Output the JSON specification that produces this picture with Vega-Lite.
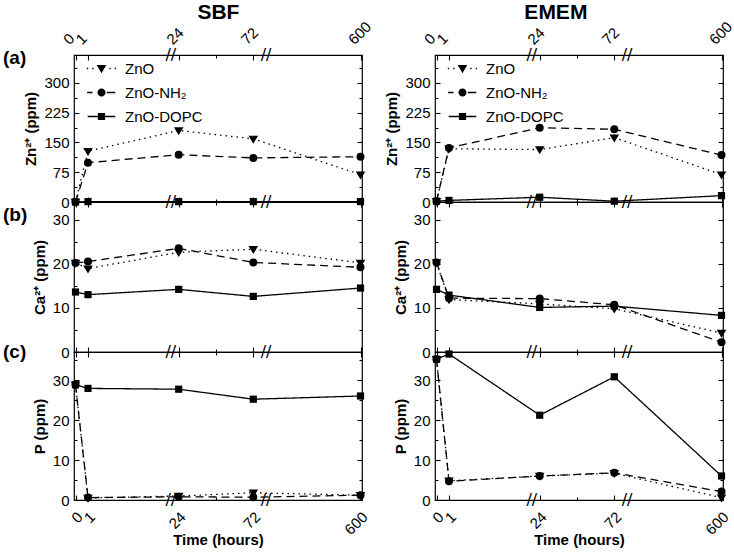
{
 "$schema": "https://vega.github.io/schema/vega-lite/v6.json",
 "padding": {"left": 2, "top": 2, "right": 0, "bottom": 2},
 "datasets": {
  "d": [
   {"m":"SBF","ion":"Zn","s":"ZnO","t":0,"v":0},{"m":"SBF","ion":"Zn","s":"ZnO","t":1,"v":128},{"m":"SBF","ion":"Zn","s":"ZnO","t":24,"v":180},{"m":"SBF","ion":"Zn","s":"ZnO","t":72,"v":159},{"m":"SBF","ion":"Zn","s":"ZnO","t":600,"v":69},
   {"m":"SBF","ion":"Zn","s":"ZnO-NH₂","t":0,"v":0},{"m":"SBF","ion":"Zn","s":"ZnO-NH₂","t":1,"v":99},{"m":"SBF","ion":"Zn","s":"ZnO-NH₂","t":24,"v":119},{"m":"SBF","ion":"Zn","s":"ZnO-NH₂","t":72,"v":111},{"m":"SBF","ion":"Zn","s":"ZnO-NH₂","t":600,"v":114},
   {"m":"SBF","ion":"Zn","s":"ZnO-DOPC","t":0,"v":0},{"m":"SBF","ion":"Zn","s":"ZnO-DOPC","t":1,"v":1},{"m":"SBF","ion":"Zn","s":"ZnO-DOPC","t":24,"v":1},{"m":"SBF","ion":"Zn","s":"ZnO-DOPC","t":72,"v":1},{"m":"SBF","ion":"Zn","s":"ZnO-DOPC","t":600,"v":1},
   {"m":"EMEM","ion":"Zn","s":"ZnO","t":0,"v":2},{"m":"EMEM","ion":"Zn","s":"ZnO","t":1,"v":134},{"m":"EMEM","ion":"Zn","s":"ZnO","t":24,"v":132},{"m":"EMEM","ion":"Zn","s":"ZnO","t":72,"v":162},{"m":"EMEM","ion":"Zn","s":"ZnO","t":600,"v":69},
   {"m":"EMEM","ion":"Zn","s":"ZnO-NH₂","t":0,"v":2},{"m":"EMEM","ion":"Zn","s":"ZnO-NH₂","t":1,"v":136},{"m":"EMEM","ion":"Zn","s":"ZnO-NH₂","t":24,"v":187},{"m":"EMEM","ion":"Zn","s":"ZnO-NH₂","t":72,"v":183},{"m":"EMEM","ion":"Zn","s":"ZnO-NH₂","t":600,"v":118},
   {"m":"EMEM","ion":"Zn","s":"ZnO-DOPC","t":0,"v":2},{"m":"EMEM","ion":"Zn","s":"ZnO-DOPC","t":1,"v":4},{"m":"EMEM","ion":"Zn","s":"ZnO-DOPC","t":24,"v":12},{"m":"EMEM","ion":"Zn","s":"ZnO-DOPC","t":72,"v":2},{"m":"EMEM","ion":"Zn","s":"ZnO-DOPC","t":600,"v":16},
   {"m":"SBF","ion":"Ca","s":"ZnO","t":0,"v":20.2},{"m":"SBF","ion":"Ca","s":"ZnO","t":1,"v":18.9},{"m":"SBF","ion":"Ca","s":"ZnO","t":24,"v":22.6},{"m":"SBF","ion":"Ca","s":"ZnO","t":72,"v":23.3},{"m":"SBF","ion":"Ca","s":"ZnO","t":600,"v":20.2},
   {"m":"SBF","ion":"Ca","s":"ZnO-NH₂","t":0,"v":20.2},{"m":"SBF","ion":"Ca","s":"ZnO-NH₂","t":1,"v":20.5},{"m":"SBF","ion":"Ca","s":"ZnO-NH₂","t":24,"v":23.5},{"m":"SBF","ion":"Ca","s":"ZnO-NH₂","t":72,"v":20.3},{"m":"SBF","ion":"Ca","s":"ZnO-NH₂","t":600,"v":19.2},
   {"m":"SBF","ion":"Ca","s":"ZnO-DOPC","t":0,"v":13.6},{"m":"SBF","ion":"Ca","s":"ZnO-DOPC","t":1,"v":13.0},{"m":"SBF","ion":"Ca","s":"ZnO-DOPC","t":24,"v":14.2},{"m":"SBF","ion":"Ca","s":"ZnO-DOPC","t":72,"v":12.6},{"m":"SBF","ion":"Ca","s":"ZnO-DOPC","t":600,"v":14.5},
   {"m":"EMEM","ion":"Ca","s":"ZnO","t":0,"v":20.3},{"m":"EMEM","ion":"Ca","s":"ZnO","t":1,"v":11.9},{"m":"EMEM","ion":"Ca","s":"ZnO","t":24,"v":10.9},{"m":"EMEM","ion":"Ca","s":"ZnO","t":72,"v":9.8},{"m":"EMEM","ion":"Ca","s":"ZnO","t":600,"v":4.3},
   {"m":"EMEM","ion":"Ca","s":"ZnO-NH₂","t":0,"v":20.3},{"m":"EMEM","ion":"Ca","s":"ZnO-NH₂","t":1,"v":12.2},{"m":"EMEM","ion":"Ca","s":"ZnO-NH₂","t":24,"v":12.1},{"m":"EMEM","ion":"Ca","s":"ZnO-NH₂","t":72,"v":10.7},{"m":"EMEM","ion":"Ca","s":"ZnO-NH₂","t":600,"v":2.2},
   {"m":"EMEM","ion":"Ca","s":"ZnO-DOPC","t":0,"v":14.2},{"m":"EMEM","ion":"Ca","s":"ZnO-DOPC","t":1,"v":12.9},{"m":"EMEM","ion":"Ca","s":"ZnO-DOPC","t":24,"v":10.1},{"m":"EMEM","ion":"Ca","s":"ZnO-DOPC","t":72,"v":10.4},{"m":"EMEM","ion":"Ca","s":"ZnO-DOPC","t":600,"v":8.3},
   {"m":"SBF","ion":"P","s":"ZnO","t":0,"v":28.8},{"m":"SBF","ion":"P","s":"ZnO","t":1,"v":0.5},{"m":"SBF","ion":"P","s":"ZnO","t":24,"v":1.0},{"m":"SBF","ion":"P","s":"ZnO","t":72,"v":1.8},{"m":"SBF","ion":"P","s":"ZnO","t":600,"v":1.2},
   {"m":"SBF","ion":"P","s":"ZnO-NH₂","t":0,"v":28.8},{"m":"SBF","ion":"P","s":"ZnO-NH₂","t":1,"v":0.6},{"m":"SBF","ion":"P","s":"ZnO-NH₂","t":24,"v":0.8},{"m":"SBF","ion":"P","s":"ZnO-NH₂","t":72,"v":0.7},{"m":"SBF","ion":"P","s":"ZnO-NH₂","t":600,"v":1.2},
   {"m":"SBF","ion":"P","s":"ZnO-DOPC","t":0,"v":28.8},{"m":"SBF","ion":"P","s":"ZnO-DOPC","t":1,"v":27.9},{"m":"SBF","ion":"P","s":"ZnO-DOPC","t":24,"v":27.7},{"m":"SBF","ion":"P","s":"ZnO-DOPC","t":72,"v":25.2},{"m":"SBF","ion":"P","s":"ZnO-DOPC","t":600,"v":26.0},
   {"m":"EMEM","ion":"P","s":"ZnO","t":0,"v":35.2},{"m":"EMEM","ion":"P","s":"ZnO","t":1,"v":4.8},{"m":"EMEM","ion":"P","s":"ZnO","t":24,"v":6.0},{"m":"EMEM","ion":"P","s":"ZnO","t":72,"v":6.7},{"m":"EMEM","ion":"P","s":"ZnO","t":600,"v":0.6},
   {"m":"EMEM","ion":"P","s":"ZnO-NH₂","t":0,"v":35.2},{"m":"EMEM","ion":"P","s":"ZnO-NH₂","t":1,"v":4.7},{"m":"EMEM","ion":"P","s":"ZnO-NH₂","t":24,"v":6.0},{"m":"EMEM","ion":"P","s":"ZnO-NH₂","t":72,"v":6.8},{"m":"EMEM","ion":"P","s":"ZnO-NH₂","t":600,"v":2.1},
   {"m":"EMEM","ion":"P","s":"ZnO-DOPC","t":0,"v":35.2},{"m":"EMEM","ion":"P","s":"ZnO-DOPC","t":1,"v":36.5},{"m":"EMEM","ion":"P","s":"ZnO-DOPC","t":24,"v":21.2},{"m":"EMEM","ion":"P","s":"ZnO-DOPC","t":72,"v":30.8},{"m":"EMEM","ion":"P","s":"ZnO-DOPC","t":600,"v":6.0}
  ],
  "brk": [{"t": 22}, {"t": 135}]
 },
 "data": {"name": "d"},
 "spacing": 8,
 "resolve": {"scale": {"shape": "independent", "strokeDash": "independent", "x": "independent", "y": "independent"}, "legend": {"shape": "independent", "strokeDash": "independent"}},
 "hconcat": [
  {
   "title": {"text": "SBF", "fontSize": 21, "offset": -5, "anchor": "start", "frame": "bounds", "dx": 195},
   "spacing": 0, "bounds": "flush",
   "resolve": {"scale": {"shape": "independent", "strokeDash": "independent", "x": "independent", "y": "independent"}, "legend": {"shape": "independent", "strokeDash": "independent"}},
   "vconcat": [
    {
     "width": 288, "height": 147,
     "title": {"text": "(a)", "orient": "top", "anchor": "start", "frame": "group", "fontSize": 19, "offset": 0, "baseline": "middle", "dx": -71, "dy": 58.5},
     "resolve": {"scale": {"shape": "independent"}, "legend": {"shape": "independent"}},
     "layer": [
      {"transform": [{"filter": "datum.m === 'SBF' && datum.ion === 'Zn'"}],
       "mark": {"type": "line", "color": "black", "strokeWidth": 1.3},
       "encoding": {
        "x": {"field": "t", "type": "quantitative", "scale": {"domain": [0,1,24,72,600], "range": [1.5,14,104.7,179.3,286.5], "nice": false, "zero": false},
              "axis": {"orient": "top", "values": [0,1,24,48,72,600], "labelExpr": "datum.value === 48 ? '' : datum.label", "labelAngle": -45, "labelAlign": "left", "labelBaseline": "middle", "labelPadding": 18.5, "labelOffset": -10, "tickSize": {"condition": {"test": "datum.value === 48", "value": -3}, "value": -5}, "title": null}},
        "y": {"field": "v", "type": "quantitative", "scale": {"domain": [0,370], "nice": false},
              "axis": {"orient": "left", "values": [0,37.5,75,112.5,150,187.5,225,262.5,300,337.5], "labelExpr": "datum.value % 75 === 0 ? datum.label : ''", "labelPadding": 10, "tickSize": {"condition": {"test": "datum.value % 75 !== 0", "value": -3}, "value": -5}, "title": "Zn²⁺ (ppm)", "titlePadding": 5}},
        "strokeDash": {"field": "s", "type": "nominal", "scale": {"range": [[1.5,4],[1,0],[8,5]]}, "legend": null}
       }},
      {"transform": [{"filter": "datum.m === 'SBF' && datum.ion === 'Zn'"}],
       "mark": {"type": "point", "filled": true, "color": "black", "opacity": 1, "size": 64},
       "encoding": {
        "x": {"field": "t", "type": "quantitative", "scale": {"domain": [0,1,24,72,600], "range": [1.5,14,104.7,179.3,286.5], "nice": false, "zero": false},
              "axis": {"orient": "bottom", "values": [0,1,24,48,72,600], "labels": false, "tickSize": {"condition": {"test": "datum.value === 48", "value": -3}, "value": -5}, "title": null}},
        "y": {"field": "v", "type": "quantitative", "scale": {"domain": [0,370], "nice": false},
              "axis": {"orient": "right", "values": [0,37.5,75,112.5,150,187.5,225,262.5,300,337.5], "labels": false, "tickSize": {"condition": {"test": "datum.value % 75 !== 0", "value": -3}, "value": -5}, "title": null}},
        "shape": {"field": "s", "type": "nominal", "scale": {"domain": ["ZnO","ZnO-NH₂","ZnO-DOPC"], "range": ["M-1.2,-0.8L1.2,-0.8L0,1.2Z", "circle", "M-0.9,-0.9H0.9V0.9H-0.9Z"]}, "legend": null}
       }},
      {"transform": [{"filter": "datum.m === 'SBF' && datum.ion === 'Zn'"}],
       "mark": {"type": "point", "filled": true, "color": "black", "opacity": 0, "size": 36},
       "encoding": {
        "x": {"field": "t", "type": "quantitative", "scale": {"domain": [0,1,24,72,600], "range": [1.5,14,104.7,179.3,286.5], "nice": false, "zero": false}, "axis": null},
        "y": {"field": "v", "type": "quantitative", "scale": {"domain": [0,370], "nice": false}, "axis": null},
        "shape": {"field": "s", "type": "nominal", "scale": {"domain": ["ZnO","ZnO-NH₂","ZnO-DOPC"], "range": ["M-4.9,-0.22h0.45v0.44h-0.45ZM-3.1,-0.22h0.45v0.44h-0.45ZM2.6,-0.22h0.45v0.44h-0.45ZM4.4,-0.22h0.45v0.44h-0.45ZM-1.6,-1.2L1.6,-1.2L0,1.6Z", "M-4.8,-0.22H-3V0.22H-4.8ZM1.8,-0.22H4.6V0.22H1.8ZM-1.35,0a1.35,1.35 0 1,0 2.7,0a1.35,1.35 0 1,0 -2.7,0Z", "M-4.6,-0.22H4.6V0.22H-4.6ZM-1.2,-1.2H1.2V1.2H-1.2Z"]},
                  "legend": {"title": null, "orient": "top-left", "offset": 6, "padding": 0, "rowPadding": 8, "labelFontSize": 15, "labelFont": "Liberation Sans", "labelColor": "black", "symbolOffset": 14, "labelOffset": 16, "symbolSize": 36, "symbolOpacity": 1, "symbolFillColor": "black", "symbolStrokeWidth": 0}}
       }},
      {"data": {"name": "brk"}, "mark": {"type": "text", "text": "//", "font": "DejaVu Sans", "fontSize": 16, "color": "black"},
       "encoding": {"x": {"field": "t", "type": "quantitative", "scale": {"domain": [0,1,24,72,600], "range": [1.5,14,104.7,179.3,286.5], "nice": false, "zero": false}, "axis": null},
                    "y": {"datum": 0, "type": "quantitative", "scale": {"domain": [0,370], "nice": false}, "axis": null}}},
      {"data": {"name": "brk"}, "mark": {"type": "text", "text": "//", "font": "DejaVu Sans", "fontSize": 16, "color": "black"},
       "encoding": {"x": {"field": "t", "type": "quantitative", "scale": {"domain": [0,1,24,72,600], "range": [1.5,14,104.7,179.3,286.5], "nice": false, "zero": false}, "axis": null},
                    "y": {"datum": 370, "type": "quantitative", "scale": {"domain": [0,370], "nice": false}, "axis": null}}}
     ]
    },
    {
     "width": 288, "height": 150,
     "title": {"text": "(b)", "orient": "top", "anchor": "start", "frame": "group", "fontSize": 19, "offset": 0, "baseline": "middle", "dx": -71, "dy": 33},
     "layer": [
      {"transform": [{"filter": "datum.m === 'SBF' && datum.ion === 'Ca'"}],
       "mark": {"type": "line", "color": "black", "strokeWidth": 1.3},
       "encoding": {
        "x": {"field": "t", "type": "quantitative", "scale": {"domain": [0,1,24,72,600], "range": [1.5,14,104.7,179.3,286.5], "nice": false, "zero": false},
              "axis": {"orient": "top", "values": [0,1,24,48,72,600], "labels": false, "tickSize": {"condition": {"test": "datum.value === 48", "value": -3}, "value": -5}, "title": null}},
        "y": {"field": "v", "type": "quantitative", "scale": {"domain": [0,34], "nice": false},
              "axis": {"orient": "left", "values": [0,5,10,15,20,25,30], "labelExpr": "datum.value % 10 === 0 ? datum.label : ''", "labelPadding": 10, "tickSize": {"condition": {"test": "datum.value % 10 !== 0", "value": -3}, "value": -5}, "title": "Ca²⁺ (ppm)", "titlePadding": 5}},
        "strokeDash": {"field": "s", "type": "nominal", "scale": {"range": [[1.5,4],[1,0],[8,5]]}, "legend": null}
       }},
      {"transform": [{"filter": "datum.m === 'SBF' && datum.ion === 'Ca'"}],
       "mark": {"type": "point", "filled": true, "color": "black", "opacity": 1, "size": 64},
       "encoding": {
        "x": {"field": "t", "type": "quantitative", "scale": {"domain": [0,1,24,72,600], "range": [1.5,14,104.7,179.3,286.5], "nice": false, "zero": false},
              "axis": {"orient": "bottom", "values": [0,1,24,48,72,600], "labels": false, "tickSize": {"condition": {"test": "datum.value === 48", "value": -3}, "value": -5}, "title": null}},
        "y": {"field": "v", "type": "quantitative", "scale": {"domain": [0,34], "nice": false},
              "axis": {"orient": "right", "values": [0,5,10,15,20,25,30], "labels": false, "tickSize": {"condition": {"test": "datum.value % 10 !== 0", "value": -3}, "value": -5}, "title": null}},
        "shape": {"field": "s", "type": "nominal", "scale": {"domain": ["ZnO","ZnO-NH₂","ZnO-DOPC"], "range": ["M-1.2,-0.8L1.2,-0.8L0,1.2Z", "circle", "M-0.9,-0.9H0.9V0.9H-0.9Z"]}, "legend": null}
       }},
      {"data": {"name": "brk"}, "mark": {"type": "text", "text": "//", "font": "DejaVu Sans", "fontSize": 16, "color": "black"},
       "encoding": {"x": {"field": "t", "type": "quantitative", "scale": {"domain": [0,1,24,72,600], "range": [1.5,14,104.7,179.3,286.5], "nice": false, "zero": false}, "axis": null},
                    "y": {"datum": 0, "type": "quantitative", "scale": {"domain": [0,34], "nice": false}, "axis": null}}}
     ]
    },
    {
     "width": 288, "height": 148,
     "title": {"text": "(c)", "orient": "top", "anchor": "start", "frame": "group", "fontSize": 19, "offset": 0, "baseline": "middle", "dx": -71, "dy": 19.5},
     "layer": [
      {"transform": [{"filter": "datum.m === 'SBF' && datum.ion === 'P'"}],
       "mark": {"type": "line", "color": "black", "strokeWidth": 1.3},
       "encoding": {
        "x": {"field": "t", "type": "quantitative", "scale": {"domain": [0,1,24,72,600], "range": [1.5,14,104.7,179.3,286.5], "nice": false, "zero": false},
              "axis": {"orient": "bottom", "values": [0,1,24,48,72,600], "labelExpr": "datum.value === 48 ? '' : datum.label", "labelAngle": -45, "labelAlign": "right", "labelBaseline": "middle", "labelPadding": 19, "labelOffset": 4, "tickSize": {"condition": {"test": "datum.value === 48", "value": -3}, "value": -5}, "title": "Time (hours)", "titlePadding": -5}},
        "y": {"field": "v", "type": "quantitative", "scale": {"domain": [0,37], "nice": false},
              "axis": {"orient": "left", "values": [0,5,10,15,20,25,30,35], "labelExpr": "datum.value % 10 === 0 ? datum.label : ''", "labelPadding": 10, "tickSize": {"condition": {"test": "datum.value % 10 !== 0", "value": -3}, "value": -5}, "title": "P (ppm)", "titlePadding": 5}},
        "strokeDash": {"field": "s", "type": "nominal", "scale": {"range": [[1.5,4],[1,0],[8,5]]}, "legend": null}
       }},
      {"transform": [{"filter": "datum.m === 'SBF' && datum.ion === 'P'"}],
       "mark": {"type": "point", "filled": true, "color": "black", "opacity": 1, "size": 64},
       "encoding": {
        "x": {"field": "t", "type": "quantitative", "scale": {"domain": [0,1,24,72,600], "range": [1.5,14,104.7,179.3,286.5], "nice": false, "zero": false},
              "axis": {"orient": "top", "values": [0,1,24,48,72,600], "labels": false, "tickSize": {"condition": {"test": "datum.value === 48", "value": -3}, "value": -5}, "title": null}},
        "y": {"field": "v", "type": "quantitative", "scale": {"domain": [0,37], "nice": false},
              "axis": {"orient": "right", "values": [0,5,10,15,20,25,30,35], "labels": false, "tickSize": {"condition": {"test": "datum.value % 10 !== 0", "value": -3}, "value": -5}, "title": null}},
        "shape": {"field": "s", "type": "nominal", "scale": {"domain": ["ZnO","ZnO-NH₂","ZnO-DOPC"], "range": ["M-1.2,-0.8L1.2,-0.8L0,1.2Z", "circle", "M-0.9,-0.9H0.9V0.9H-0.9Z"]}, "legend": null}
       }},
      {"data": {"name": "brk"}, "mark": {"type": "text", "text": "//", "font": "DejaVu Sans", "fontSize": 16, "color": "black"},
       "encoding": {"x": {"field": "t", "type": "quantitative", "scale": {"domain": [0,1,24,72,600], "range": [1.5,14,104.7,179.3,286.5], "nice": false, "zero": false}, "axis": null},
                    "y": {"datum": 0, "type": "quantitative", "scale": {"domain": [0,37], "nice": false}, "axis": null}}}
     ]
    }
   ]
  },
  {
   "title": {"text": "EMEM", "fontSize": 21, "offset": -5, "anchor": "start", "frame": "bounds", "dx": 140},
   "spacing": 0, "bounds": "flush",
   "resolve": {"scale": {"shape": "independent", "strokeDash": "independent", "x": "independent", "y": "independent"}, "legend": {"shape": "independent", "strokeDash": "independent"}},
   "vconcat": [
    {
     "width": 288, "height": 147,
     "resolve": {"scale": {"shape": "independent"}, "legend": {"shape": "independent"}},
     "layer": [
      {"transform": [{"filter": "datum.m === 'EMEM' && datum.ion === 'Zn'"}],
       "mark": {"type": "line", "color": "black", "strokeWidth": 1.3},
       "encoding": {
        "x": {"field": "t", "type": "quantitative", "scale": {"domain": [0,1,24,72,600], "range": [1.5,14,104.7,179.3,286.5], "nice": false, "zero": false},
              "axis": {"orient": "top", "values": [0,1,24,48,72,600], "labelExpr": "datum.value === 48 ? '' : datum.label", "labelAngle": -45, "labelAlign": "left", "labelBaseline": "middle", "labelPadding": 18.5, "labelOffset": -10, "tickSize": {"condition": {"test": "datum.value === 48", "value": -3}, "value": -5}, "title": null}},
        "y": {"field": "v", "type": "quantitative", "scale": {"domain": [0,370], "nice": false},
              "axis": {"orient": "left", "values": [0,37.5,75,112.5,150,187.5,225,262.5,300,337.5], "labelExpr": "datum.value % 75 === 0 ? datum.label : ''", "labelPadding": 10, "tickSize": {"condition": {"test": "datum.value % 75 !== 0", "value": -3}, "value": -5}, "title": "Zn²⁺ (ppm)", "titlePadding": 5}},
        "strokeDash": {"field": "s", "type": "nominal", "scale": {"range": [[1.5,4],[1,0],[8,5]]}, "legend": null}
       }},
      {"transform": [{"filter": "datum.m === 'EMEM' && datum.ion === 'Zn'"}],
       "mark": {"type": "point", "filled": true, "color": "black", "opacity": 1, "size": 64},
       "encoding": {
        "x": {"field": "t", "type": "quantitative", "scale": {"domain": [0,1,24,72,600], "range": [1.5,14,104.7,179.3,286.5], "nice": false, "zero": false},
              "axis": {"orient": "bottom", "values": [0,1,24,48,72,600], "labels": false, "tickSize": {"condition": {"test": "datum.value === 48", "value": -3}, "value": -5}, "title": null}},
        "y": {"field": "v", "type": "quantitative", "scale": {"domain": [0,370], "nice": false},
              "axis": {"orient": "right", "values": [0,37.5,75,112.5,150,187.5,225,262.5,300,337.5], "labels": false, "tickSize": {"condition": {"test": "datum.value % 75 !== 0", "value": -3}, "value": -5}, "title": null}},
        "shape": {"field": "s", "type": "nominal", "scale": {"domain": ["ZnO","ZnO-NH₂","ZnO-DOPC"], "range": ["M-1.2,-0.8L1.2,-0.8L0,1.2Z", "circle", "M-0.9,-0.9H0.9V0.9H-0.9Z"]}, "legend": null}
       }},
      {"transform": [{"filter": "datum.m === 'EMEM' && datum.ion === 'Zn'"}],
       "mark": {"type": "point", "filled": true, "color": "black", "opacity": 0, "size": 36},
       "encoding": {
        "x": {"field": "t", "type": "quantitative", "scale": {"domain": [0,1,24,72,600], "range": [1.5,14,104.7,179.3,286.5], "nice": false, "zero": false}, "axis": null},
        "y": {"field": "v", "type": "quantitative", "scale": {"domain": [0,370], "nice": false}, "axis": null},
        "shape": {"field": "s", "type": "nominal", "scale": {"domain": ["ZnO","ZnO-NH₂","ZnO-DOPC"], "range": ["M-4.9,-0.22h0.45v0.44h-0.45ZM-3.1,-0.22h0.45v0.44h-0.45ZM2.6,-0.22h0.45v0.44h-0.45ZM4.4,-0.22h0.45v0.44h-0.45ZM-1.6,-1.2L1.6,-1.2L0,1.6Z", "M-4.8,-0.22H-3V0.22H-4.8ZM1.8,-0.22H4.6V0.22H1.8ZM-1.35,0a1.35,1.35 0 1,0 2.7,0a1.35,1.35 0 1,0 -2.7,0Z", "M-4.6,-0.22H4.6V0.22H-4.6ZM-1.2,-1.2H1.2V1.2H-1.2Z"]},
                  "legend": {"title": null, "orient": "top-left", "offset": 6, "padding": 0, "rowPadding": 8, "labelFontSize": 15, "labelFont": "Liberation Sans", "labelColor": "black", "symbolOffset": 14, "labelOffset": 16, "symbolSize": 36, "symbolOpacity": 1, "symbolFillColor": "black", "symbolStrokeWidth": 0}}
       }},
      {"data": {"name": "brk"}, "mark": {"type": "text", "text": "//", "font": "DejaVu Sans", "fontSize": 16, "color": "black"},
       "encoding": {"x": {"field": "t", "type": "quantitative", "scale": {"domain": [0,1,24,72,600], "range": [1.5,14,104.7,179.3,286.5], "nice": false, "zero": false}, "axis": null},
                    "y": {"datum": 0, "type": "quantitative", "scale": {"domain": [0,370], "nice": false}, "axis": null}}},
      {"data": {"name": "brk"}, "mark": {"type": "text", "text": "//", "font": "DejaVu Sans", "fontSize": 16, "color": "black"},
       "encoding": {"x": {"field": "t", "type": "quantitative", "scale": {"domain": [0,1,24,72,600], "range": [1.5,14,104.7,179.3,286.5], "nice": false, "zero": false}, "axis": null},
                    "y": {"datum": 370, "type": "quantitative", "scale": {"domain": [0,370], "nice": false}, "axis": null}}}
     ]
    },
    {
     "width": 288, "height": 150,
     "layer": [
      {"transform": [{"filter": "datum.m === 'EMEM' && datum.ion === 'Ca'"}],
       "mark": {"type": "line", "color": "black", "strokeWidth": 1.3},
       "encoding": {
        "x": {"field": "t", "type": "quantitative", "scale": {"domain": [0,1,24,72,600], "range": [1.5,14,104.7,179.3,286.5], "nice": false, "zero": false},
              "axis": {"orient": "top", "values": [0,1,24,48,72,600], "labels": false, "tickSize": {"condition": {"test": "datum.value === 48", "value": -3}, "value": -5}, "title": null}},
        "y": {"field": "v", "type": "quantitative", "scale": {"domain": [0,34], "nice": false},
              "axis": {"orient": "left", "values": [0,5,10,15,20,25,30], "labelExpr": "datum.value % 10 === 0 ? datum.label : ''", "labelPadding": 10, "tickSize": {"condition": {"test": "datum.value % 10 !== 0", "value": -3}, "value": -5}, "title": "Ca²⁺ (ppm)", "titlePadding": 5}},
        "strokeDash": {"field": "s", "type": "nominal", "scale": {"range": [[1.5,4],[1,0],[8,5]]}, "legend": null}
       }},
      {"transform": [{"filter": "datum.m === 'EMEM' && datum.ion === 'Ca'"}],
       "mark": {"type": "point", "filled": true, "color": "black", "opacity": 1, "size": 64},
       "encoding": {
        "x": {"field": "t", "type": "quantitative", "scale": {"domain": [0,1,24,72,600], "range": [1.5,14,104.7,179.3,286.5], "nice": false, "zero": false},
              "axis": {"orient": "bottom", "values": [0,1,24,48,72,600], "labels": false, "tickSize": {"condition": {"test": "datum.value === 48", "value": -3}, "value": -5}, "title": null}},
        "y": {"field": "v", "type": "quantitative", "scale": {"domain": [0,34], "nice": false},
              "axis": {"orient": "right", "values": [0,5,10,15,20,25,30], "labels": false, "tickSize": {"condition": {"test": "datum.value % 10 !== 0", "value": -3}, "value": -5}, "title": null}},
        "shape": {"field": "s", "type": "nominal", "scale": {"domain": ["ZnO","ZnO-NH₂","ZnO-DOPC"], "range": ["M-1.2,-0.8L1.2,-0.8L0,1.2Z", "circle", "M-0.9,-0.9H0.9V0.9H-0.9Z"]}, "legend": null}
       }},
      {"data": {"name": "brk"}, "mark": {"type": "text", "text": "//", "font": "DejaVu Sans", "fontSize": 16, "color": "black"},
       "encoding": {"x": {"field": "t", "type": "quantitative", "scale": {"domain": [0,1,24,72,600], "range": [1.5,14,104.7,179.3,286.5], "nice": false, "zero": false}, "axis": null},
                    "y": {"datum": 0, "type": "quantitative", "scale": {"domain": [0,34], "nice": false}, "axis": null}}}
     ]
    },
    {
     "width": 288, "height": 148,
     "layer": [
      {"transform": [{"filter": "datum.m === 'EMEM' && datum.ion === 'P'"}],
       "mark": {"type": "line", "color": "black", "strokeWidth": 1.3},
       "encoding": {
        "x": {"field": "t", "type": "quantitative", "scale": {"domain": [0,1,24,72,600], "range": [1.5,14,104.7,179.3,286.5], "nice": false, "zero": false},
              "axis": {"orient": "bottom", "values": [0,1,24,48,72,600], "labelExpr": "datum.value === 48 ? '' : datum.label", "labelAngle": -45, "labelAlign": "right", "labelBaseline": "middle", "labelPadding": 19, "labelOffset": 4, "tickSize": {"condition": {"test": "datum.value === 48", "value": -3}, "value": -5}, "title": "Time (hours)", "titlePadding": -5}},
        "y": {"field": "v", "type": "quantitative", "scale": {"domain": [0,37], "nice": false},
              "axis": {"orient": "left", "values": [0,5,10,15,20,25,30,35], "labelExpr": "datum.value % 10 === 0 ? datum.label : ''", "labelPadding": 10, "tickSize": {"condition": {"test": "datum.value % 10 !== 0", "value": -3}, "value": -5}, "title": "P (ppm)", "titlePadding": 5}},
        "strokeDash": {"field": "s", "type": "nominal", "scale": {"range": [[1.5,4],[1,0],[8,5]]}, "legend": null}
       }},
      {"transform": [{"filter": "datum.m === 'EMEM' && datum.ion === 'P'"}],
       "mark": {"type": "point", "filled": true, "color": "black", "opacity": 1, "size": 64},
       "encoding": {
        "x": {"field": "t", "type": "quantitative", "scale": {"domain": [0,1,24,72,600], "range": [1.5,14,104.7,179.3,286.5], "nice": false, "zero": false},
              "axis": {"orient": "top", "values": [0,1,24,48,72,600], "labels": false, "tickSize": {"condition": {"test": "datum.value === 48", "value": -3}, "value": -5}, "title": null}},
        "y": {"field": "v", "type": "quantitative", "scale": {"domain": [0,37], "nice": false},
              "axis": {"orient": "right", "values": [0,5,10,15,20,25,30,35], "labels": false, "tickSize": {"condition": {"test": "datum.value % 10 !== 0", "value": -3}, "value": -5}, "title": null}},
        "shape": {"field": "s", "type": "nominal", "scale": {"domain": ["ZnO","ZnO-NH₂","ZnO-DOPC"], "range": ["M-1.2,-0.8L1.2,-0.8L0,1.2Z", "circle", "M-0.9,-0.9H0.9V0.9H-0.9Z"]}, "legend": null}
       }},
      {"data": {"name": "brk"}, "mark": {"type": "text", "text": "//", "font": "DejaVu Sans", "fontSize": 16, "color": "black"},
       "encoding": {"x": {"field": "t", "type": "quantitative", "scale": {"domain": [0,1,24,72,600], "range": [1.5,14,104.7,179.3,286.5], "nice": false, "zero": false}, "axis": null},
                    "y": {"datum": 0, "type": "quantitative", "scale": {"domain": [0,37], "nice": false}, "axis": null}}}
     ]
    }
   ]
  }
 ],
 "config": {
  "font": "Liberation Sans",
  "view": {"stroke": "black", "strokeWidth": 1.2},
  "axis": {"domain": false, "grid": false, "tickColor": "black", "tickWidth": 1.1, "labelColor": "black", "labelFontSize": 15, "labelFont": "Liberation Sans", "titleFont": "Liberation Sans", "titleFontSize": 15, "titleFontWeight": "bold", "titleColor": "black", "labelOverlap": false, "labelFlush": false, "labelBound": false},
  "title": {"font": "Liberation Sans", "fontWeight": "bold", "color": "black"}
 }
}
